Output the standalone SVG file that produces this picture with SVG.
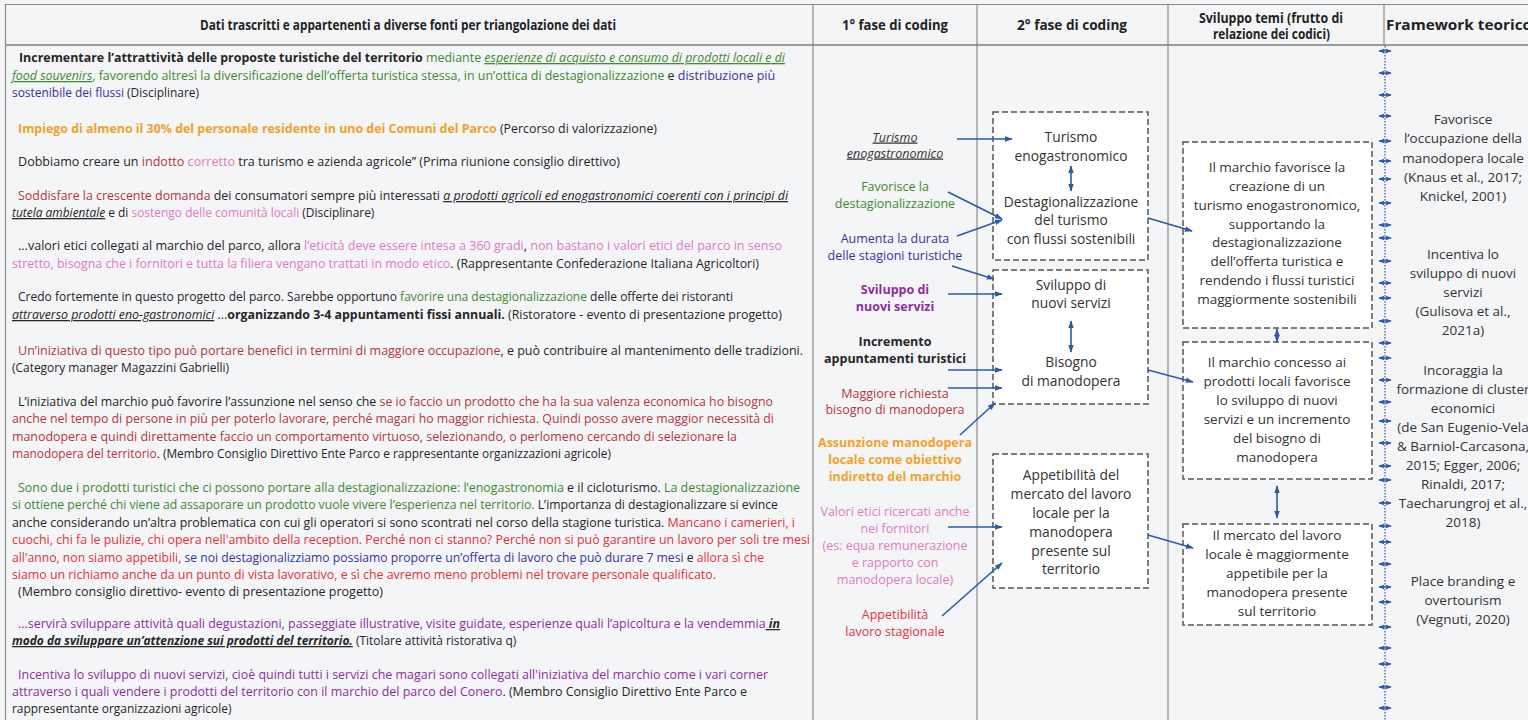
<svg xmlns="http://www.w3.org/2000/svg" width="1528" height="720" viewBox="0 0 1528 720">
<defs>
<style>
.bg{fill:#f4f5f7}
.grid{stroke:#8a8a8a;stroke-width:1.2;fill:none}
.hd{font-family:"Open Sans","Liberation Sans",sans-serif;font-weight:700;font-size:13.5px;fill:#222}
.src{font-family:"Open Sans","Liberation Sans",sans-serif;font-size:12.6px;fill:#262626}
.k{fill:#262626}.g{fill:#3d8a2e}.b{fill:#34349f}.o{fill:#f2a22a;font-weight:700}.c{fill:#b5353e}.p{fill:#e07ac4}.r{fill:#e2323a}.v{fill:#8e2e9e}
.bd{font-weight:700}.iu{font-style:italic;text-decoration:underline}
.code{font-family:"Open Sans","Liberation Sans",sans-serif;font-size:12.5px;text-anchor:middle}
.box{fill:#fff;stroke:#555;stroke-width:1.5;stroke-dasharray:6 3}
.bt{font-family:"Open Sans","Liberation Sans",sans-serif;font-size:13.8px;fill:#333;text-anchor:middle}
.fw{font-family:"Open Sans","Liberation Sans",sans-serif;font-size:13.5px;fill:#333;text-anchor:middle}
.cn{stroke:#2b5ba8;stroke-width:1.6;fill:none;marker-end:url(#ah)}
.dbl{stroke:#2b5ba8;stroke-width:1.6;fill:none;marker-start:url(#ah);marker-end:url(#ah)}
.tick{stroke:#2b5ba8;stroke-width:1.4;fill:none;marker-start:url(#as);marker-end:url(#as)}
</style>
<marker id="ah" viewBox="0 0 10 10" refX="9" refY="5" markerWidth="8" markerHeight="8" markerUnits="userSpaceOnUse" orient="auto-start-reverse"><path d="M0,1.5 L10,5 L0,8.5 z" fill="#2b5ba8"/></marker>
<marker id="as" viewBox="0 0 10 10" refX="9" refY="5" markerWidth="5.5" markerHeight="5.5" markerUnits="userSpaceOnUse" orient="auto-start-reverse"><path d="M0,1 L10,5 L0,9 z" fill="#2b5ba8"/></marker>
</defs>

<rect class="bg" x="0" y="0" width="1528" height="720"/>

<!-- table frame -->
<g id="table">
<line class="grid" x1="5" y1="4.5" x2="1528" y2="4.5"/>
<line class="grid" x1="5.5" y1="4" x2="5.5" y2="720"/>
<line x1="5" y1="45" x2="1528" y2="45" stroke="#9a9a9a" stroke-width="2"/>
<line class="grid" x1="813" y1="4" x2="813" y2="720"/>
<line class="grid" x1="977" y1="4" x2="977" y2="720"/>
<line class="grid" x1="1168" y1="4" x2="1168" y2="720"/>
<line class="grid" x1="1384" y1="4" x2="1384" y2="45"/>
<text class="hd" x="200" y="30" textLength="416" lengthAdjust="spacingAndGlyphs">Dati trascritti e appartenenti a diverse fonti per triangolazione dei dati</text>
<text class="hd" x="842" y="30" textLength="106" lengthAdjust="spacingAndGlyphs">1° fase di coding</text>
<text class="hd" x="1017" y="30" textLength="110" lengthAdjust="spacingAndGlyphs">2° fase di coding</text>
<text class="hd" x="1199" y="23" textLength="144" lengthAdjust="spacingAndGlyphs">Sviluppo temi (frutto di</text>
<text class="hd" x="1213" y="39" textLength="117" lengthAdjust="spacingAndGlyphs">relazione dei codici)</text>
<text class="hd" x="1386" y="30" textLength="146" lengthAdjust="spacingAndGlyphs">Framework teorico</text>
</g>

<!-- transcribed sources: narrow setting of the source column -->
<g id="sources" transform="scale(0.95,1)">
<g id="src-1">
<text class="src" x="20" y="62" textLength="806.3" lengthAdjust="spacingAndGlyphs"><tspan class="bd">Incrementare l’attrattività delle proposte turistiche del territorio</tspan><tspan class="g"> mediante </tspan><tspan class="g iu">esperienze di acquisto e consumo di prodotti locali e di</tspan></text>
<text class="src" x="12.6" y="80" textLength="803.2" lengthAdjust="spacingAndGlyphs"><tspan class="g iu">food souvenirs</tspan><tspan class="g">, favorendo altresì la diversificazione dell’offerta turistica stessa, in un’ottica di destagionalizzazione</tspan> e <tspan class="b">distribuzione più</tspan></text>
<text class="src" x="12.6" y="97"><tspan class="b">sostenibile dei flussi</tspan> (Disciplinare)</text>
</g>
<g id="src-2">
<text class="src" x="19" y="133" textLength="672.6" lengthAdjust="spacingAndGlyphs"><tspan class="o">Impiego di almeno il 30% del personale residente in uno dei Comuni del Parco</tspan> (Percorso di valorizzazione)</text>
</g>
<g id="src-3">
<text class="src" x="19" y="166" textLength="633.7" lengthAdjust="spacingAndGlyphs">Dobbiamo creare un <tspan class="c">indotto </tspan><tspan class="p">corretto</tspan> tra turismo e azienda agricole” (Prima riunione consiglio direttivo)</text>
</g>
<g id="src-4">
<text class="src" x="19" y="200" textLength="810.5" lengthAdjust="spacingAndGlyphs"><tspan class="c">Soddisfare la crescente domanda</tspan> dei consumatori sempre più interessati <tspan class="iu">a prodotti agricoli ed enogastronomici coerenti con i principi di</tspan></text>
<text class="src" x="12.6" y="217"><tspan class="iu">tutela ambientale</tspan> e di <tspan class="p">sostengo delle comunità locali</tspan> (Disciplinare)</text>
</g>
<g id="src-5">
<text class="src" x="19" y="250" textLength="804.2" lengthAdjust="spacingAndGlyphs">...valori etici collegati al marchio del parco, allora <tspan class="p">l’eticità deve essere intesa a 360 gradi</tspan>, <tspan class="p">non bastano i valori etici del parco in senso</tspan></text>
<text class="src" x="12.6" y="268" textLength="786.3" lengthAdjust="spacingAndGlyphs"><tspan class="p">stretto, bisogna che i fornitori e tutta la filiera vengano trattati in modo etico</tspan>. (Rappresentante Confederazione Italiana Agricoltori)</text>
</g>
<g id="src-6">
<text class="src" x="19" y="301" textLength="752.6" lengthAdjust="spacingAndGlyphs">Credo fortemente in questo progetto del parco. Sarebbe opportuno <tspan class="g">favorire una destagionalizzazione</tspan> delle offerte dei ristoranti</text>
<text class="src" x="12.6" y="319" textLength="810.5" lengthAdjust="spacingAndGlyphs"><tspan class="iu">attraverso prodotti eno-gastronomici</tspan> ...<tspan class="bd">organizzando 3-4 appuntamenti fissi annuali.</tspan> (Ristoratore - evento di presentazione progetto)</text>
</g>
<g id="src-7">
<text class="src" x="19" y="355" textLength="826.3" lengthAdjust="spacingAndGlyphs"><tspan class="c">Un’iniziativa di questo tipo può portare benefici in termini di maggiore occupazione</tspan>, e può contribuire al mantenimento delle tradizioni.</text>
<text class="src" x="12.6" y="372">(Category manager Magazzini Gabrielli)</text>
</g>
<g id="src-8">
<text class="src" x="19" y="406" textLength="794.7" lengthAdjust="spacingAndGlyphs">L’iniziativa del marchio può favorire l’assunzione nel senso che <tspan class="c">se io faccio un prodotto che ha la sua valenza economica ho bisogno</tspan></text>
<text class="src" x="12.6" y="423" textLength="802.1" lengthAdjust="spacingAndGlyphs"><tspan class="c">anche nel tempo di persone in più per poterlo lavorare, perché magari ho maggior richiesta. Quindi posso avere maggior necessità di</tspan></text>
<text class="src" x="12.6" y="441" textLength="763.2" lengthAdjust="spacingAndGlyphs"><tspan class="c">manodopera e quindi direttamente faccio un comportamento virtuoso, selezionando, o perlomeno cercando di selezionare la</tspan></text>
<text class="src" x="12.6" y="458" textLength="630.5" lengthAdjust="spacingAndGlyphs"><tspan class="c">manodopera del territorio</tspan>. (Membro Consiglio Direttivo Ente Parco e rappresentante organizzazioni agricole)</text>
</g>
<g id="src-9">
<text class="src" x="19" y="492" textLength="823.2" lengthAdjust="spacingAndGlyphs"><tspan class="g">Sono due i prodotti turistici che ci possono portare alla destagionalizzazione: l’enogastronomia</tspan> e il cicloturismo. <tspan class="g">La destagionalizzazione</tspan></text>
<text class="src" x="12.6" y="509.5" textLength="806.3" lengthAdjust="spacingAndGlyphs"><tspan class="g">si ottiene perché chi viene ad assaporare un prodotto vuole vivere l’esperienza nel territorio.</tspan> L’importanza di destagionalizzare si evince</text>
<text class="src" x="12.6" y="527" textLength="824.2" lengthAdjust="spacingAndGlyphs">anche considerando un’altra problematica con cui gli operatori si sono scontrati nel corso della stagione turistica. <tspan class="r">Mancano i camerieri, i</tspan></text>
<text class="src" x="12.6" y="544.5" textLength="840" lengthAdjust="spacingAndGlyphs"><tspan class="r">cuochi, chi fa le pulizie, chi opera nell'ambito della reception. Perché non ci stanno? Perché non si può garantire un lavoro per soli tre mesi</tspan></text>
<text class="src" x="12.6" y="562" textLength="791.6" lengthAdjust="spacingAndGlyphs"><tspan class="r">all'anno, non siamo appetibili, </tspan><tspan class="b">se noi destagionalizziamo possiamo proporre un’offerta di lavoro che può durare 7 mesi</tspan> e <tspan class="r">allora sì che</tspan></text>
<text class="src" x="12.6" y="579" textLength="741" lengthAdjust="spacingAndGlyphs"><tspan class="r">siamo un richiamo anche da un punto di vista lavorativo, e sì che avremo meno problemi nel trovare personale qualificato.</tspan></text>
<text class="src" x="19" y="596" textLength="384.2" lengthAdjust="spacingAndGlyphs">(Membro consiglio direttivo- evento di presentazione progetto)</text>
</g>
<g id="src-10">
<text class="src" x="19" y="628" textLength="802.1" lengthAdjust="spacingAndGlyphs"><tspan class="v">...servirà sviluppare attività quali degustazioni, passeggiate illustrative, visite guidate, esperienze quali l’apicoltura e la vendemmia</tspan><tspan class="bd iu"> in</tspan></text>
<text class="src" x="12.6" y="645"><tspan class="bd iu">modo da sviluppare un’attenzione sui prodotti del territorio.</tspan> (Titolare attività ristorativa q)</text>
</g>
<g id="src-11">
<text class="src" x="19" y="679" textLength="789.5" lengthAdjust="spacingAndGlyphs"><tspan class="v">Incentiva lo sviluppo di nuovi servizi, cioè quindi tutti i servizi che magari sono collegati all'iniziativa del marchio come i vari corner</tspan></text>
<text class="src" x="12.6" y="696" textLength="773.7" lengthAdjust="spacingAndGlyphs"><tspan class="v">attraverso i quali vendere i prodotti del territorio con il marchio del parco del Conero</tspan>. (Membro Consiglio Direttivo Ente Parco e</text>
<text class="src" x="12.6" y="713">rappresentante organizzazioni agricole)</text>
</g>
</g>

<!-- first coding phase -->
<g id="codes-1">
<g id="c-turismo"><text class="code" x="895" y="141.5" fill="#333" font-style="italic" text-decoration="underline">Turismo </text><text class="code" x="895" y="157.5" fill="#333" font-style="italic" text-decoration="underline">enogastronomico</text></g>
<g id="c-favorisce"><text class="code" x="895" y="190.5" fill="#3d8a2e">Favorisce la</text><text class="code" x="895" y="207.5" fill="#3d8a2e">destagionalizzazione</text></g>
<g id="c-durata"><text class="code" x="895" y="242.5" fill="#34349f">Aumenta la durata</text><text class="code" x="895" y="259.5" fill="#34349f">delle stagioni turistiche</text></g>
<g id="c-servizi"><text class="code" x="895" y="293.5" fill="#8e2e9e" font-weight="700">Sviluppo di</text><text class="code" x="895" y="310.5" fill="#8e2e9e" font-weight="700">nuovi servizi</text></g>
<g id="c-appuntamenti"><text class="code" x="895" y="345.5" fill="#262626" font-weight="700">Incremento</text><text class="code" x="895" y="362.5" fill="#262626" font-weight="700">appuntamenti turistici</text></g>
<g id="c-richiesta"><text class="code" x="895" y="397.5" fill="#b5353e">Maggiore richiesta</text><text class="code" x="895" y="413.5" fill="#b5353e">bisogno di manodopera</text></g>
<g id="c-assunzione"><text class="code" x="895" y="446.5" fill="#f2a22a" font-weight="700">Assunzione manodopera</text><text class="code" x="895" y="463.5" fill="#f2a22a" font-weight="700">locale come obiettivo</text><text class="code" x="895" y="480.5" fill="#f2a22a" font-weight="700">indiretto del marchio</text></g>
<g id="c-valori"><text class="code" x="895" y="515.5" fill="#e07ac4">Valori etici ricercati anche</text><text class="code" x="895" y="532.5" fill="#e07ac4">nei fornitori</text><text class="code" x="895" y="549.5" fill="#e07ac4">(es: equa remunerazione</text><text class="code" x="895" y="566.5" fill="#e07ac4">e rapporto con</text><text class="code" x="895" y="583.5" fill="#e07ac4">manodopera locale)</text></g>
<g id="c-appetibilita"><text class="code" x="895" y="618.5" fill="#e2323a">Appetibilità</text><text class="code" x="895" y="635.5" fill="#e2323a">lavoro stagionale</text></g>
</g>

<!-- second coding phase -->
<g id="codes-2">
<g id="box-destag"><rect class="box" x="993" y="112" width="155" height="148"/>
<text class="bt" x="1071" y="142">Turismo</text><text class="bt" x="1071" y="161">enogastronomico</text>
<text class="bt" x="1071" y="207">Destagionalizzazione</text><text class="bt" x="1071" y="225">del turismo</text><text class="bt" x="1071" y="244">con flussi sostenibili</text></g>
<g id="box-servizi"><rect class="box" x="993" y="270" width="155" height="134"/>
<text class="bt" x="1071" y="290">Sviluppo di</text><text class="bt" x="1071" y="308">nuovi servizi</text>
<text class="bt" x="1071" y="367">Bisogno</text><text class="bt" x="1071" y="386">di manodopera</text></g>
<g id="box-mercato"><rect class="box" x="993" y="454" width="155" height="134"/>
<text class="bt" x="1071" y="480">Appetibilità del</text><text class="bt" x="1071" y="499">mercato del lavoro</text><text class="bt" x="1071" y="518">locale per la</text><text class="bt" x="1071" y="537">manodopera</text><text class="bt" x="1071" y="556">presente sul</text><text class="bt" x="1071" y="574">territorio</text></g>
</g>

<!-- themes -->
<g id="themes">
<g id="theme-1"><rect class="box" x="1183" y="142" width="189" height="186"/>
<text class="fw" x="1277" y="172">Il marchio favorisce la</text><text class="fw" x="1277" y="191">creazione di un</text><text class="fw" x="1277" y="210">turismo enogastronomico,</text><text class="fw" x="1277" y="229">supportando la</text><text class="fw" x="1277" y="247">destagionalizzazione</text><text class="fw" x="1277" y="266">dell’offerta turistica e</text><text class="fw" x="1277" y="285">rendendo i flussi turistici</text><text class="fw" x="1277" y="304">maggiormente sostenibili</text></g>
<g id="theme-2"><rect class="box" x="1183" y="342" width="189" height="137"/>
<text class="fw" x="1277" y="367">Il marchio concesso ai</text><text class="fw" x="1277" y="386">prodotti locali favorisce</text><text class="fw" x="1277" y="405">lo sviluppo di nuovi</text><text class="fw" x="1277" y="424">servizi e un incremento</text><text class="fw" x="1277" y="443">del bisogno di</text><text class="fw" x="1277" y="462">manodopera</text></g>
<g id="theme-3"><rect class="box" x="1183" y="524" width="189" height="101"/>
<text class="fw" x="1277" y="540">Il mercato del lavoro</text><text class="fw" x="1277" y="559">locale è maggiormente</text><text class="fw" x="1277" y="578">appetibile per la</text><text class="fw" x="1277" y="597">manodopera presente</text><text class="fw" x="1277" y="616">sul territorio</text></g>
</g>

<!-- theoretical framework -->
<g id="framework">
<g id="fw-1"><text class="fw" x="1463" y="124">Favorisce</text><text class="fw" x="1463" y="143">l’occupazione della</text><text class="fw" x="1463" y="163">manodopera locale</text><text class="fw" x="1463" y="182">(Knaus et al., 2017;</text><text class="fw" x="1463" y="201">Knickel, 2001)</text></g>
<g id="fw-2"><text class="fw" x="1463" y="259">Incentiva lo</text><text class="fw" x="1463" y="278">sviluppo di nuovi</text><text class="fw" x="1463" y="297">servizi</text><text class="fw" x="1463" y="316">(Gulisova et al.,</text><text class="fw" x="1463" y="335">2021a)</text></g>
<g id="fw-3"><text class="fw" x="1463" y="375">Incoraggia la</text><text class="fw" x="1463" y="394">formazione di cluster</text><text class="fw" x="1463" y="413">economici</text><text class="fw" x="1463" y="432">(de San Eugenio-Vela</text><text class="fw" x="1463" y="451">&amp; Barniol-Carcasona,</text><text class="fw" x="1463" y="470">2015; Egger, 2006;</text><text class="fw" x="1463" y="489">Rinaldi, 2017;</text><text class="fw" x="1463" y="508">Taecharungroj et al.,</text><text class="fw" x="1463" y="527">2018)</text></g>
<g id="fw-4"><text class="fw" x="1463" y="586">Place branding e</text><text class="fw" x="1463" y="605">overtourism</text><text class="fw" x="1463" y="624">(Vegnuti, 2020)</text></g>
</g>

<!-- connectors -->
<g id="connectors">
<path class="cn" d="M957,139 L1012,139"/>
<path class="cn" d="M948,192 L1002,219"/>
<path class="cn" d="M957,236 L1002,220"/>
<path class="cn" d="M952,266 L994,279"/>
<path class="cn" d="M948,294 L1002,294"/>
<path class="cn" d="M948,370 L1002,370"/>
<path class="cn" d="M948,388 L1002,388"/>
<path class="cn" d="M960,435 L995,403"/>
<path class="cn" d="M948,527 L1002,527"/>
<path class="cn" d="M942,616 L1002,563"/>
<path class="cn" d="M1148,218 L1192,231"/>
<path class="cn" d="M1148,370 L1193,382"/>
<path class="cn" d="M1148,535 L1193,548"/>
<path class="dbl" d="M1071,166 L1071,191"/>
<path class="dbl" d="M1071,321 L1071,352"/>
<path class="dbl" d="M1277,329 L1277,342"/>
<path class="dbl" d="M1277,486 L1277,518"/>
<line x1="1385" y1="46" x2="1385" y2="720" stroke="#2b5ba8" stroke-width="1.2" stroke-dasharray="1.5 1.5"/>
<g id="ties">
<path class="tick" d="M1379,51 H1391"/><path class="tick" d="M1379,73 H1391"/><path class="tick" d="M1379,95 H1391"/>
<path class="tick" d="M1379,116 H1391"/><path class="tick" d="M1379,141 H1391"/><path class="tick" d="M1379,161 H1391"/>
<path class="tick" d="M1379,179 H1391"/><path class="tick" d="M1379,203 H1391"/><path class="tick" d="M1379,225 H1391"/>
<path class="tick" d="M1379,238 H1391"/><path class="tick" d="M1379,261 H1391"/><path class="tick" d="M1379,283 H1391"/>
<path class="tick" d="M1379,298 H1391"/><path class="tick" d="M1379,321 H1391"/><path class="tick" d="M1379,343 H1391"/>
<path class="tick" d="M1379,358 H1391"/><path class="tick" d="M1379,380 H1391"/><path class="tick" d="M1379,402 H1391"/>
<path class="tick" d="M1379,421 H1391"/><path class="tick" d="M1379,443 H1391"/><path class="tick" d="M1379,466 H1391"/>
<path class="tick" d="M1379,480 H1391"/><path class="tick" d="M1379,503 H1391"/><path class="tick" d="M1379,526 H1391"/>
<path class="tick" d="M1379,542 H1391"/><path class="tick" d="M1379,564 H1391"/><path class="tick" d="M1379,587 H1391"/>
<path class="tick" d="M1379,602 H1391"/><path class="tick" d="M1379,627 H1391"/><path class="tick" d="M1379,648 H1391"/>
<path class="tick" d="M1379,664 H1391"/><path class="tick" d="M1379,687 H1391"/><path class="tick" d="M1379,708 H1391"/>
</g>
</g>
</svg>
